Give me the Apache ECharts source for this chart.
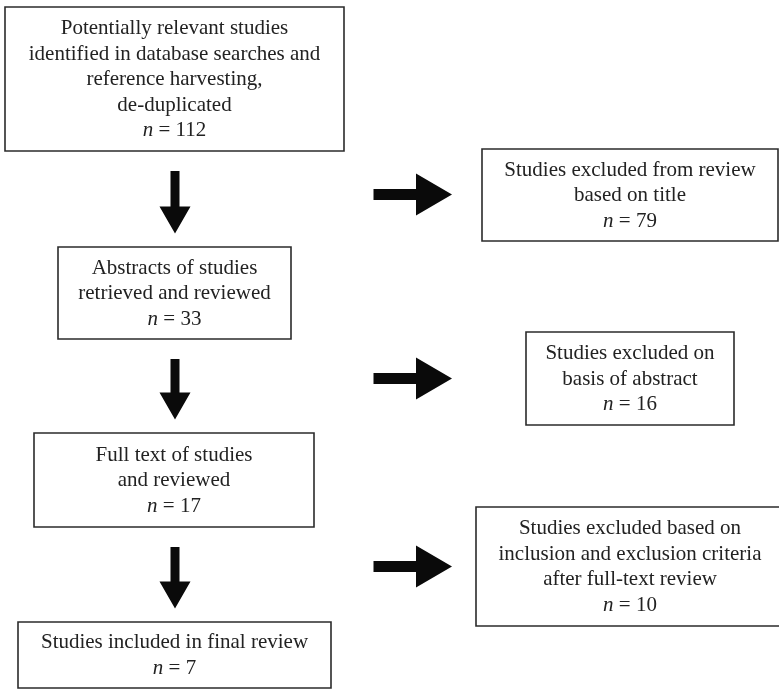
<!DOCTYPE html>
<html>
<head>
<meta charset="utf-8">
<script src="https://cdn.jsdelivr.net/npm/echarts@6/dist/echarts.min.js"></script>
<style>
html,body{margin:0;padding:0;background:#fff;}
#chart{width:779px;height:689px;}
</style>
</head>
<body>
<div id="chart"></div>
<script>
// ---- content ----
const mainLabels = [
  'Potentially relevant studies\nidentified in database searches and\nreference harvesting,\nde-duplicated',
  'Abstracts of studies\nretrieved and reviewed',
  'Full text of studies\nand reviewed',
  'Studies included in final review'
];
const mainCounts = [112, 33, 17, 7];
const excludedLabels = [
  'Studies excluded from review\nbased on title',
  'Studies excluded on\nbasis of abstract',
  'Studies excluded based on\ninclusion and exclusion criteria\nafter full-text review'
];
const excludedCounts = [79, 16, 10];

// ---- layout (pixel frame 779 x 689) ----
const mainBoxes = [[5,7,344,151],[58,247,291,339],[34,433,314,527],[18,622,331,688]];
const exclBoxes = [[482,149,778,241],[526,332,734,425],[476,507,784,626]];
const downArrowX = 175;
const rightArrowY = [194.5, 378.5, 566.5];

const FONT = '"Liberation Serif","Times New Roman",serif';
const FS = 21;
const LH = 25.5;

function boxItems(labels, counts, boxes) {
  return labels.map((l, i) => ({ value: boxes[i], label: l, count: counts[i] }));
}
const boxData = boxItems(mainLabels, mainCounts, mainBoxes)
  .concat(boxItems(excludedLabels, excludedCounts, exclBoxes));

const arrowData = [];
for (let i = 0; i < mainBoxes.length - 1; i++) {
  arrowData.push({ value: [downArrowX, mainBoxes[i][3] + 20, downArrowX, mainBoxes[i+1][1] - 13.5], dir: 'down' });
}
rightArrowY.forEach(y => arrowData.push({ value: [373.5, y, 452, y], dir: 'right' }));

const chart = echarts.init(document.getElementById('chart'), null, { renderer: 'canvas' });
chart.setOption({
  animation: false,
  backgroundColor: '#fff',
  grid: { left: 0, right: 0, top: 0, bottom: 0 },
  xAxis: { type: 'value', min: 0, max: 779, show: false },
  yAxis: { type: 'value', min: 0, max: 689, inverse: true, show: false },
  series: [
    {
      type: 'custom',
      clip: true,
      data: boxData,
      renderItem: function (params, api) {
        const d = boxData[params.dataIndex];
        const p0 = api.coord([api.value(0), api.value(1)]);
        const p1 = api.coord([api.value(2), api.value(3)]);
        const cx = (p0[0] + p1[0]) / 2;
        const cy = (p0[1] + p1[1]) / 2;
        const txt = d.label + '\n{i|n} = ' + d.count;
        return {
          type: 'group',
          children: [
            {
              type: 'rect',
              shape: { x: p0[0], y: p0[1], width: p1[0] - p0[0], height: p1[1] - p0[1] },
              style: { fill: '#fff', stroke: '#2b2b2b', lineWidth: 1.6 }
            },
            {
              type: 'text',
              x: cx, y: cy + 0.5,
              style: {
                text: txt,
                align: 'center',
                verticalAlign: 'middle',
                fontFamily: FONT,
                fontSize: FS,
                lineHeight: LH,
                fill: '#222',
                rich: {
                  i: { fontStyle: 'italic', fontFamily: FONT, fontSize: FS, lineHeight: LH, fill: '#222' }
                }
              }
            }
          ]
        };
      }
    },
    {
      type: 'custom',
      data: arrowData,
      renderItem: function (params, api) {
        const d = arrowData[params.dataIndex];
        const a = api.coord([api.value(0), api.value(1)]);
        const b = api.coord([api.value(2), api.value(3)]);
        let pts;
        if (d.dir === 'down') {
          const x = a[0], y0 = a[1], y1 = b[1];
          const sw = 4.5, hw = 15.5, hl = 27;
          pts = [[x - sw, y0], [x + sw, y0], [x + sw, y1 - hl], [x + hw, y1 - hl], [x, y1], [x - hw, y1 - hl], [x - sw, y1 - hl]];
        } else {
          const y = a[1], x0 = a[0], x1 = b[0];
          const sw = 5.5, hw = 21, hl = 36;
          pts = [[x0, y - sw], [x1 - hl, y - sw], [x1 - hl, y - hw], [x1, y], [x1 - hl, y + hw], [x1 - hl, y + sw], [x0, y + sw]];
        }
        return { type: 'polygon', shape: { points: pts }, style: { fill: '#0a0a0a' } };
      }
    }
  ]
});
</script>
</body>
</html>
